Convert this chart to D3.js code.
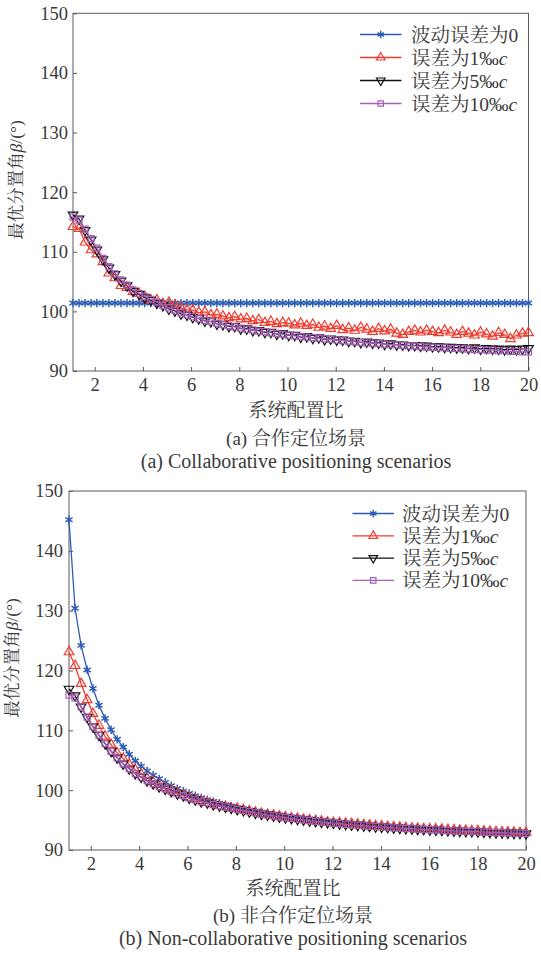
<!DOCTYPE html>
<html>
<head>
<meta charset="utf-8">
<script src="https://cdn.jsdelivr.net/npm/d3@7/dist/d3.min.js"></script>
<style>
  body { margin: 0; background: #fff; }
  svg { display: block; }
</style>
</head>
<body>
<svg id="chart" width="541" height="953"></svg>
<script>
// System configuration ratio (x grid shared by every series)
const configRatio = [
  1.10,1.35,1.60,1.85,2.09,2.34,2.59,2.84,3.09,3.34,
  3.59,3.84,4.08,4.33,4.58,4.83,5.08,5.33,5.58,5.83,
  6.07,6.32,6.57,6.82,7.07,7.32,7.57,7.81,8.06,8.31,
  8.56,8.81,9.06,9.31,9.56,9.80,10.05,10.30,10.55,10.80,
  11.05,11.30,11.54,11.79,12.04,12.29,12.54,12.79,13.04,13.29,
  13.53,13.78,14.03,14.28,14.53,14.78,15.03,15.28,15.52,15.77,
  16.02,16.27,16.52,16.77,17.02,17.26,17.51,17.76,18.01,18.26,
  18.51,18.76,19.01,19.25,19.50,19.75,20.00
];

// (a) collaborative positioning: optimal separation angle (deg)
const collabErr0 = [
  101.4,101.4,101.4,101.4,101.4,101.4,101.4,101.4,101.4,101.4,
  101.4,101.4,101.4,101.4,101.4,101.4,101.4,101.4,101.4,101.4,
  101.4,101.4,101.4,101.4,101.4,101.4,101.4,101.4,101.4,101.4,
  101.4,101.4,101.4,101.4,101.4,101.4,101.4,101.4,101.4,101.4,
  101.4,101.4,101.4,101.4,101.4,101.4,101.4,101.4,101.4,101.4,
  101.4,101.4,101.4,101.4,101.4,101.4,101.4,101.4,101.4,101.4,
  101.4,101.4,101.4,101.4,101.4,101.4,101.4,101.4,101.4,101.4,
  101.4,101.4,101.4,101.4,101.4,101.4,101.4
];
const collabErr1 = [
  114.2,113.9,111.6,110.3,109.6,108.3,106.4,105.6,104.3,104.0,
  103.3,103.0,102.4,101.9,101.9,101.3,101.5,101.0,100.6,100.3,
  100.2,99.8,99.9,99.4,99.5,99.2,98.9,99.1,98.7,98.8,
  98.4,98.6,98.1,98.3,97.9,98.1,98.0,97.7,98.0,97.6,
  97.8,97.3,97.5,97.1,97.6,96.9,97.2,96.8,97.3,97.0,
  96.6,97.1,96.7,97.0,96.3,96.1,96.6,96.8,96.5,96.8,
  96.6,96.4,96.8,96.5,96.1,96.6,96.3,96.0,96.5,96.2,
  95.8,96.4,96.1,95.4,96.0,96.3,96.4
];
const collabErr5 = [
  116.2,115.5,113.6,112.0,110.3,108.7,107.3,106.2,105.1,104.3,
  103.4,102.9,102.3,101.9,101.4,101.0,100.4,100.1,99.6,99.4,
  99.0,98.8,98.4,98.3,97.9,97.8,97.5,97.5,97.1,97.1,
  96.8,96.8,96.5,96.5,96.2,96.3,96.0,96.0,95.7,95.8,
  95.5,95.6,95.3,95.4,95.2,95.2,95.0,95.0,94.8,94.9,
  94.7,94.7,94.5,94.6,94.4,94.4,94.3,94.3,94.2,94.2,
  94.1,94.1,94.0,94.0,93.9,93.9,93.8,93.9,93.7,93.8,
  93.7,93.7,93.6,93.7,93.6,93.7,93.8
];
const collabErr10 = [
  115.8,115.3,113.8,112.2,110.6,108.9,107.5,106.3,105.3,104.4,
  103.6,103.0,102.5,102.0,101.6,101.0,100.6,100.2,99.8,99.4,
  99.1,98.8,98.5,98.3,98.0,97.8,97.6,97.4,97.2,97.0,
  96.9,96.7,96.6,96.4,96.3,96.2,96.0,95.9,95.8,95.7,
  95.6,95.5,95.4,95.3,95.2,95.1,95.0,94.9,94.8,94.7,
  94.7,94.6,94.5,94.4,94.4,94.3,94.2,94.2,94.1,94.0,
  94.0,93.9,93.9,93.8,93.8,93.7,93.7,93.6,93.6,93.5,
  93.5,93.4,93.4,93.3,93.3,93.2,93.2
];

// (b) non-collaborative positioning
const nonCollabErr0 = [
  145.2,130.4,124.2,120.1,117.0,114.2,112.0,110.1,108.5,107.2,
  106.0,104.9,104.0,103.2,102.5,101.9,101.3,100.75,100.27,99.83,
  99.44,99.07,98.72,98.40,98.10,97.83,97.57,97.34,97.11,96.90,
  96.69,96.50,96.32,96.15,95.99,95.85,95.70,95.56,95.43,95.31,
  95.19,95.07,94.97,94.86,94.76,94.66,94.57,94.48,94.39,94.31,
  94.24,94.16,94.08,94.01,93.94,93.88,93.81,93.75,93.69,93.63,
  93.58,93.52,93.47,93.42,93.37,93.32,93.27,93.23,93.18,93.14,
  93.10,93.05,93.01,92.98,92.94,92.90,92.87
];
const nonCollabErr1 = [
  123.1,120.8,117.8,115.1,112.8,110.8,109.0,107.6,106.2,105.3,
  104.3,103.4,102.7,102.0,101.4,100.9,100.4,100.0,99.6,99.2,
  98.8,98.5,98.2,97.9,97.7,97.4,97.2,97.0,96.9,96.7,
  96.5,96.3,96.1,95.95,95.8,95.65,95.5,95.35,95.25,95.1,
  95.0,94.9,94.8,94.65,94.55,94.55,94.45,94.4,94.3,94.2,
  94.15,94.05,94.0,93.9,93.85,93.8,93.7,93.65,93.6,93.55,
  93.5,93.5,93.45,93.4,93.35,93.3,93.25,93.2,93.2,93.15,
  93.1,93.05,93.0,93.0,92.95,92.9,92.9
];
const nonCollabErr5 = [
  116.9,115.8,113.9,112.2,110.6,109.2,107.8,106.5,105.4,104.4,
  103.6,102.8,102.2,101.6,101.1,100.6,100.2,99.8,99.4,99.1,
  98.7,98.4,98.1,97.9,97.6,97.4,97.2,97.0,96.8,96.6,
  96.4,96.2,96.0,95.85,95.7,95.55,95.4,95.3,95.15,95.05,
  94.9,94.8,94.7,94.6,94.5,94.4,94.3,94.2,94.15,94.05,
  94.0,93.9,93.85,93.8,93.7,93.65,93.6,93.55,93.5,93.45,
  93.4,93.35,93.3,93.25,93.2,93.15,93.1,93.1,93.05,93.0,
  92.95,92.9,92.9,92.85,92.8,92.8,92.75
];
const nonCollabErr10 = [
  115.9,115.4,113.9,112.2,110.6,109.2,107.8,106.5,105.4,104.4,
  103.6,102.8,102.2,101.6,101.1,100.6,100.2,99.8,99.4,99.1,
  98.7,98.4,98.1,97.9,97.6,97.4,97.2,97.0,96.8,96.6,
  96.4,96.2,96.0,95.85,95.7,95.55,95.4,95.3,95.15,95.05,
  94.9,94.8,94.7,94.6,94.5,94.4,94.3,94.2,94.15,94.05,
  94.0,93.9,93.85,93.8,93.7,93.65,93.6,93.55,93.5,93.45,
  93.4,93.35,93.3,93.25,93.2,93.15,93.1,93.1,93.05,93.0,
  92.95,92.9,92.9,92.85,92.8,92.8,92.75
];

// Axis ticks and labels
const xTicks = [2, 4, 6, 8, 10, 12, 14, 16, 18, 20];
const yTicks = [90, 100, 110, 120, 130, 140, 150];
const xDomain = [1.1, 20];
const yDomain = [90, 150];
const seriesNames = [
  [{ t: "波动误差为0" }],
  [{ t: "误差为1‰" }, { t: "c", it: true }],
  [{ t: "误差为5‰" }, { t: "c", it: true }],
  [{ t: "误差为10‰" }, { t: "c", it: true }]
];
const xTitle = "系统配置比";
const captionsA = ["(a) 合作定位场景", "(a) Collaborative positioning scenarios"];
const captionsB = ["(b) 非合作定位场景", "(b) Non-collaborative positioning scenarios"];

// Styles
const FONT = '"Liberation Serif", "Times New Roman", "Noto Serif CJK SC", "Noto Sans CJK SC", serif';
const TEXT = "#3a3a3a";
const AXIS = "#5a5a5a";
const styles = [
  { color: "#2c5cb6", symbol: d3.symbolAsterisk, size: 48, rot: 0, sw: 1.5 },
  { color: "#f03a2c", symbol: d3.symbolTriangle, size: 40, rot: 0, sw: 1.2 },
  { color: "#111111", symbol: d3.symbolTriangle, size: 40, rot: 180, sw: 1.2 },
  { color: "#a85fba", symbol: d3.symbolSquare, size: 36, rot: 0, sw: 1.2 }
];

const svg = d3.select("#chart");

function drawPanel(cfg) {
  const x = d3.scaleLinear().domain(xDomain).range([cfg.left, cfg.right]);
  const y = d3.scaleLinear().domain(yDomain).range([cfg.bottom, cfg.top]);
  const g = svg.append("g");

  // axes
  const gx = g.append("g")
    .attr("transform", `translate(0,${cfg.bottom})`)
    .call(d3.axisBottom(x).tickValues(xTicks).tickSizeInner(-4).tickSizeOuter(0).tickPadding(7));
  const gy = g.append("g")
    .attr("transform", `translate(${cfg.left},0)`)
    .call(d3.axisLeft(y).tickValues(yTicks).tickSizeInner(-4).tickSizeOuter(0).tickPadding(cfg.yPad));
  [gx, gy].forEach(a => {
    a.select(".domain").remove();
    a.selectAll(".tick line").attr("stroke", AXIS);
    a.selectAll(".tick text").attr("fill", TEXT).style("font-family", FONT).style("font-size", "18.5px");
  });

  // frame
  g.append("rect")
    .attr("x", cfg.left).attr("y", cfg.top)
    .attr("width", cfg.right - cfg.left).attr("height", cfg.bottom - cfg.top)
    .attr("fill", "none").attr("stroke", AXIS).attr("stroke-width", 1);

  // series lines + markers
  const line = d3.line().x(d => x(d[0])).y(d => y(d[1]));
  cfg.series.forEach((vals, i) => {
    const st = styles[i];
    const pts = configRatio.map((c, k) => [c, vals[k]]);
    g.append("path").datum(pts)
      .attr("d", line).attr("fill", "none")
      .attr("stroke", st.color).attr("stroke-width", 1.3);
    g.append("g").selectAll("path").data(pts).join("path")
      .attr("d", d3.symbol(st.symbol, st.size))
      .attr("transform", d => `translate(${x(d[0])},${y(d[1])}) rotate(${st.rot})`)
      .attr("fill", "none").attr("stroke", st.color).attr("stroke-width", st.sw);
  });

  // legend
  const lg = g.append("g");
  seriesNames.forEach((parts, i) => {
    const st = styles[i];
    const ly = cfg.legY + i * cfg.legDy;
    lg.append("line")
      .attr("x1", cfg.legX0).attr("x2", cfg.legX1).attr("y1", ly).attr("y2", ly)
      .attr("stroke", st.color).attr("stroke-width", 1.3);
    lg.append("path")
      .attr("d", d3.symbol(st.symbol, st.size * 0.8))
      .attr("transform", `translate(${(cfg.legX0 + cfg.legX1) / 2},${ly}) rotate(${st.rot})`)
      .attr("fill", "none").attr("stroke", st.color).attr("stroke-width", st.sw);
    const t = lg.append("text")
      .attr("x", cfg.legText).attr("y", ly + 7)
      .attr("fill", TEXT).style("font-family", FONT).style("font-size", "19.5px");
    parts.forEach(p => t.append("tspan").text(p.t).style("font-style", p.it ? "italic" : "normal"));
  });

  // y title
  const yt = g.append("text")
    .attr("transform", `translate(${cfg.yTitleX},${cfg.yTitleY}) rotate(-90)`)
    .attr("text-anchor", "middle").attr("fill", TEXT)
    .style("font-family", FONT).style("font-size", "17.5px");
  yt.append("tspan").text("最优分置角");
  yt.append("tspan").text("β").style("font-style", "italic");
  yt.append("tspan").text("/(°)");

  // x title and captions
  const cx = cfg.captionX;
  g.append("text").attr("x", cx).attr("y", cfg.xTitleY).attr("text-anchor", "middle")
    .attr("fill", TEXT).style("font-family", FONT).style("font-size", "19px").text(xTitle);
  g.append("text").attr("x", cx).attr("y", cfg.cap1Y).attr("text-anchor", "middle")
    .attr("fill", TEXT).style("font-family", FONT).style("font-size", "19px").text(cfg.captions[0]);
  g.append("text").attr("x", cx).attr("y", cfg.cap2Y).attr("text-anchor", "middle")
    .attr("fill", TEXT).style("font-family", FONT).style("font-size", "20px").text(cfg.captions[1]);
}

drawPanel({
  left: 73, right: 528.5, top: 13.3, bottom: 371, yPad: 5,
  series: [collabErr0, collabErr1, collabErr5, collabErr10],
  legX0: 360, legX1: 401.5, legText: 411, legY: 34.5, legDy: 23,
  yTitleX: 22, yTitleY: 180,
  captionX: 296, xTitleY: 417, cap1Y: 445, cap2Y: 468,
  captions: captionsA
});

drawPanel({
  left: 69, right: 526, top: 491, bottom: 850, yPad: 6,
  series: [nonCollabErr0, nonCollabErr1, nonCollabErr5, nonCollabErr10],
  legX0: 352.5, legX1: 394, legText: 402, legY: 513.5, legDy: 22.3,
  yTitleX: 18, yTitleY: 658,
  captionX: 293, xTitleY: 895, cap1Y: 922, cap2Y: 945,
  captions: captionsB
});
</script>
</body>
</html>
